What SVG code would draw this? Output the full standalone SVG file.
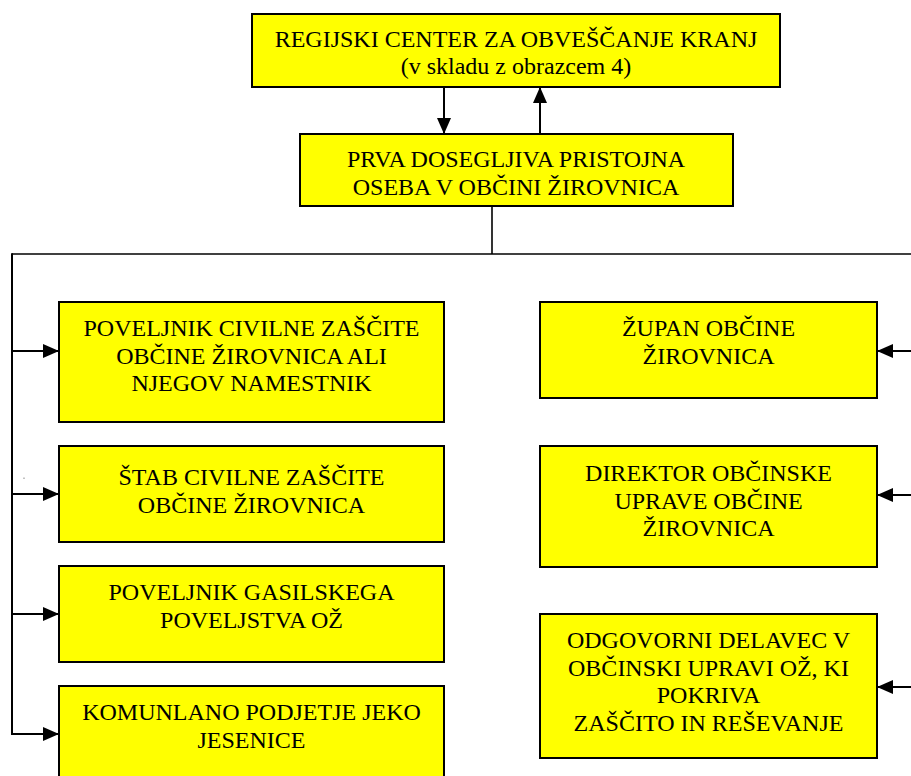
<svg xmlns="http://www.w3.org/2000/svg" width="911" height="776" viewBox="0 0 911 776">
<style>
.box{fill:#ffff00;stroke:#000;stroke-width:2}
.t{font-family:"Liberation Serif","Times New Roman",serif;font-size:24px;fill:#000;text-anchor:middle}
.ln{stroke:#000;stroke-width:2;fill:none}
.bus{stroke:#000;stroke-width:1.6;fill:none}
</style>
<defs>
<marker id="ah" viewBox="0 0 16 14" refX="16" refY="7" markerWidth="16" markerHeight="14" markerUnits="userSpaceOnUse" orient="auto">
<path d="M0,0 L16,7 L0,14 z" fill="#000"/>
</marker>
</defs>
<rect width="911" height="776" fill="#fff"/>
<g id="connectors">
<line class="ln" x1="444" y1="87" x2="444" y2="134" marker-end="url(#ah)"/>
<line class="ln" x1="540" y1="134" x2="540" y2="87" marker-end="url(#ah)"/>
<line class="bus" x1="492" y1="206" x2="492" y2="254"/>
<line class="bus" x1="12" y1="254" x2="911" y2="254"/>
<line class="ln" x1="12" y1="253.2" x2="12" y2="735"/>
<line class="ln" x1="11" y1="351" x2="59" y2="351" marker-end="url(#ah)"/>
<line class="ln" x1="11" y1="494" x2="59" y2="494" marker-end="url(#ah)"/>
<line class="ln" x1="11" y1="614" x2="59" y2="614" marker-end="url(#ah)"/>
<line class="ln" x1="11" y1="734" x2="59" y2="734" marker-end="url(#ah)"/>
<line class="ln" x1="911" y1="351" x2="877" y2="351" marker-end="url(#ah)"/>
<line class="ln" x1="911" y1="495" x2="877" y2="495" marker-end="url(#ah)"/>
<line class="ln" x1="911" y1="687" x2="877" y2="687" marker-end="url(#ah)"/>
</g>
<rect x="23.5" y="477.5" width="1" height="1.5" fill="#888"/>
<g id="regijski">
<rect class="box" x="252" y="14" width="528" height="73"/>
<text class="t" x="516" y="47">REGIJSKI CENTER ZA OBVEŠČANJE KRANJ</text>
<text class="t" x="516" y="74">(v skladu z obrazcem 4)</text>
</g>
<g id="prva">
<rect class="box" x="300" y="134" width="433" height="72"/>
<text class="t" x="516" y="167">PRVA DOSEGLJIVA PRISTOJNA</text>
<text class="t" x="516" y="195">OSEBA V OBČINI ŽIROVNICA</text>
</g>
<g id="poveljnik-cz">
<rect class="box" x="59" y="302" width="385" height="120"/>
<text class="t" x="251.5" y="336">POVELJNIK CIVILNE ZAŠČITE</text>
<text class="t" x="251.5" y="363.6">OBČINE ŽIROVNICA ALI</text>
<text class="t" x="251.5" y="391.2">NJEGOV NAMESTNIK</text>
</g>
<g id="stab-cz">
<rect class="box" x="59" y="446" width="385" height="96"/>
<text class="t" x="251.5" y="485">ŠTAB CIVILNE ZAŠČITE</text>
<text class="t" x="251.5" y="512.6">OBČINE ŽIROVNICA</text>
</g>
<g id="poveljnik-gasilskega">
<rect class="box" x="59" y="566" width="385" height="96"/>
<text class="t" x="251.5" y="600">POVELJNIK GASILSKEGA</text>
<text class="t" x="251.5" y="627.6">POVELJSTVA OŽ</text>
</g>
<g id="komunalno">
<rect class="box" x="59" y="686" width="385" height="110"/>
<text class="t" x="251.5" y="720">KOMUNLANO PODJETJE JEKO</text>
<text class="t" x="251.5" y="747.6">JESENICE</text>
</g>
<g id="zupan">
<rect class="box" x="540" y="302" width="337" height="96"/>
<text class="t" x="708.5" y="336">ŽUPAN OBČINE</text>
<text class="t" x="708.5" y="363.6">ŽIROVNICA</text>
</g>
<g id="direktor">
<rect class="box" x="540" y="446" width="337" height="121"/>
<text class="t" x="708.5" y="481">DIREKTOR OBČINSKE</text>
<text class="t" x="708.5" y="508.6">UPRAVE OBČINE</text>
<text class="t" x="708.5" y="536.2">ŽIROVNICA</text>
</g>
<g id="odgovorni">
<rect class="box" x="540" y="614" width="337" height="144"/>
<text class="t" x="708.5" y="648">ODGOVORNI DELAVEC V</text>
<text class="t" x="708.5" y="675.6">OBČINSKI UPRAVI OŽ, KI</text>
<text class="t" x="708.5" y="703.2">POKRIVA</text>
<text class="t" x="708.5" y="730.8">ZAŠČITO IN REŠEVANJE</text>
</g>
</svg>
